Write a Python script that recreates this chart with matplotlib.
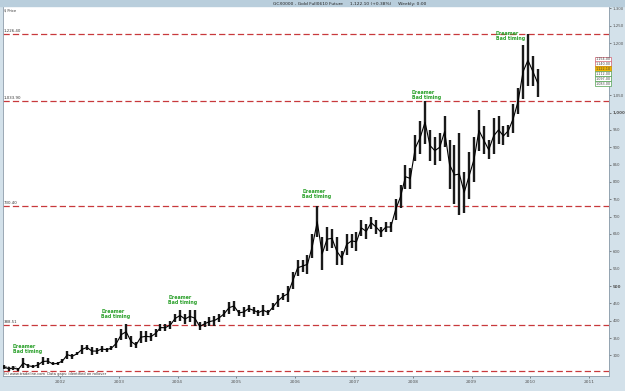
import numpy as np
import matplotlib
matplotlib.use("Agg")
import matplotlib.pyplot as plt
from matplotlib.patches import Rectangle

# monthly high / low of gold, Jan 2001 .. Feb 2010
highs = [272, 268, 270, 265, 293, 275, 272, 280, 294, 292, 280, 281,
         290, 313, 305, 310, 330, 331, 325, 320, 327, 322, 327, 350,
         375, 390, 355, 340, 370, 370, 365, 375, 390, 390, 400, 418,
         430, 420, 430, 430, 395, 400, 410, 415, 420, 430, 455, 457,
         430, 440, 445, 440, 432, 445, 430, 450, 475, 480, 500, 540,
         575, 575, 590, 650, 730, 640, 670, 665, 640, 600, 650, 650,
         655, 690, 680, 700, 690, 670, 685, 685, 750, 790, 850, 840,
         935, 975, 1034, 950, 930, 940, 990, 920, 905, 940, 830, 885,
         930, 1007, 960, 920, 985, 990, 960, 965, 1025, 1070, 1195, 1226,
         1162, 1125]
lows = [262, 255, 257, 255, 263, 265, 264, 265, 271, 275, 271, 273,
        278, 291, 290, 300, 305, 315, 300, 305, 310, 311, 315, 320,
        345, 346, 325, 320, 335, 340, 342, 352, 370, 370, 375, 395,
        400, 390, 395, 385, 372, 382, 385, 386, 397, 410, 420, 428,
        415, 410, 425, 420, 415, 415, 417, 430, 440, 460, 455, 490,
        530, 540, 535, 580, 640, 545, 600, 610, 560, 560, 590, 610,
        600, 645, 635, 665, 650, 640, 655, 655, 690, 725, 780, 780,
        860, 880, 910, 860, 850, 860, 900, 780, 735, 705, 710, 750,
        800, 890, 880, 865, 880, 910, 905, 930, 940, 995, 1040, 1075,
        1075, 1045]

level_values = [1226.4, 1033.9, 730.4, 388.5, 255.1]
level_labels = ["1,226.40", "1,033.90", "730.40", "388.51", "255.10"]

note_years = [2001.2, 2002.7, 2003.84, 2006.12, 2007.98, 2009.41]
note_values = [333, 434, 474, 780, 1065, 1235]

year_ticks = list(range(2002, 2012))
price_ticks = [p for p in range(300, 1301, 50) if p not in (1100, 1150)]

box_labels = ["1,154.00", "1,140.00", "1,122.10", "1,112.00", "1,097.00", "1,083.00"]
box_values = [1154, 1140, 1126, 1112, 1097, 1083]
box_edges = ["#d06070", "#d06070", "#c89000", "#50a050", "#50a050", "#50a050"]
box_faces = ["white", "white", "#f0b400", "white", "white", "white"]

bg = "#d3e1ea"
fig = plt.figure(figsize=(6.25, 3.91), dpi=100, facecolor=bg)
fig.patches.append(Rectangle((0, 0.985), 1, 0.015, transform=fig.transFigure,
                             color="#b9cedc", zorder=0))
fig.text(0.437, 0.991, "GCX0000 - Gold Full0610 Future     1,122.10 (+0.38%)     Weekly: 0:00",
         fontsize=3.2, va="center", ha="left", color="#222222")

ax = fig.add_axes([0.0048, 0.0384, 0.9696, 0.9463])
ax.set_facecolor("white")

n = len(highs)
xs = np.array([2001 + (i + 0.5) / 12 for i in range(n)])
hi = np.array(highs, dtype=float)
lo = np.array(lows, dtype=float)
mid = (hi + lo) / 2

# one high-low bar per month, joined through the bar midpoints
ax.vlines(xs, lo, hi, color="#1a1a1a", lw=1.7, zorder=3)
ax.plot(xs, mid, color="black", lw=0.8, zorder=3)

for v, lab in zip(level_values, level_labels):
    ax.axhline(v, color="#c8393c", lw=0.9, dashes=(5, 2.5), zorder=2)
    ax.text(2001.04, v + 3, lab, fontsize=2.8, va="bottom", ha="left", color="#333333")

for x, v in zip(note_years, note_values):
    ax.text(x, v, "Dreamer\nBad timing", fontsize=3.4, color="#2aa02a", va="top",
            ha="left", fontweight="bold", linespacing=1.1, zorder=4)

for lab, v, ec, fc in zip(box_labels, box_values, box_edges, box_faces):
    ax.text(2011.37, v, lab, fontsize=2.4, ha="right", va="center", color="#444444",
            bbox=dict(boxstyle="square,pad=0.15", fc=fc, ec=ec, lw=0.5),
            zorder=5, clip_on=False)

ax.text(2001.04, 252, "(c) www.tradeline.com  Data gaps: identified on rollover",
        fontsize=2.6, va="top", ha="left", color="#333333")
ax.text(2001.04, 1300, "$ Price", fontsize=2.6, va="top", ha="left", color="#333333")

ax.set_xlim(2001.03, 2011.337)
ax.set_ylim(240.7, 1307)
ax.set_xticks(year_ticks)
ax.set_xticklabels([str(y) for y in year_ticks], fontsize=3.2, color="#333333")
ax.yaxis.tick_right()
ax.set_yticks(price_ticks)
ax.set_yticklabels([f"{p:,}" for p in price_ticks], fontsize=2.9, color="#333333")
for t, p in zip(ax.get_yticklabels(), price_ticks):
    if p in (500, 1000):
        t.set_fontweight("bold")
ax.tick_params(axis="both", length=1.5, width=0.5, pad=1.2, colors="#555555")
for s in ax.spines.values():
    s.set_color("#8a9aa8")
    s.set_linewidth(0.6)

fig.savefig("out.png", dpi=100, facecolor=bg)
